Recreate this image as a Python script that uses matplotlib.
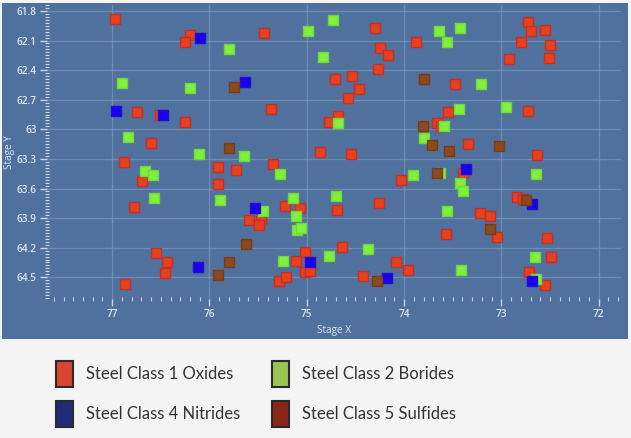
import matplotlib
matplotlib.use("Agg")
import matplotlib.pyplot as plt
from matplotlib.patches import Rectangle, Patch
from matplotlib.ticker import MultipleLocator, FixedLocator
import numpy as np

# --- data (stage coordinates) ---
oxides_x = [76.97, 76.20, 76.25, 75.44, 76.75, 76.51, 76.25, 75.37, 76.60, 76.88,
            74.86, 75.91, 75.91, 75.73, 75.35, 76.69, 76.78, 75.22, 75.07, 75.59,
            75.47, 75.49, 76.55, 76.44, 76.46, 76.87, 75.02, 75.11, 75.02, 74.97,
            75.29, 75.21, 74.30, 73.88, 74.25, 74.16, 74.27, 72.73, 72.70, 72.55,
            72.80, 72.50, 72.92, 72.51, 74.71, 74.54, 74.46, 74.58, 73.48, 73.55,
            72.73, 74.68, 74.77, 73.66, 73.62, 73.34, 74.55, 72.63, 73.39, 74.03,
            74.69, 74.26, 72.84, 72.78, 73.22, 73.12, 73.04, 73.57, 72.53, 74.64,
            74.08, 73.96, 74.42, 72.49, 72.72, 72.55]
oxides_y = [61.88, 62.04, 62.12, 62.02, 62.82, 62.85, 62.93, 62.79, 63.14, 63.33,
            63.23, 63.38, 63.55, 63.41, 63.35, 63.52, 63.79, 63.78, 63.80, 63.92,
            63.91, 63.97, 64.25, 64.34, 64.46, 64.57, 64.24, 64.33, 64.45, 64.44,
            64.54, 64.50, 61.97, 62.12, 62.18, 62.25, 62.39, 61.91, 62.00, 61.99,
            62.11, 62.15, 62.29, 62.28, 62.49, 62.46, 62.59, 62.68, 62.54, 62.82,
            62.81, 62.87, 62.93, 62.94, 62.97, 63.15, 63.25, 63.26, 63.44, 63.51,
            63.82, 63.75, 63.69, 63.71, 63.85, 63.88, 64.09, 64.06, 64.10, 64.19,
            64.34, 64.43, 64.49, 64.29, 64.45, 64.58]

borides_x = [75.80, 74.99, 74.83, 76.90, 76.20, 76.84, 76.11, 75.64, 76.66, 76.58,
             75.27, 76.57, 75.89, 75.45, 75.14, 75.11, 75.10, 75.06, 75.24, 74.73,
             73.64, 73.43, 73.56, 73.21, 73.44, 72.95, 74.68, 73.59, 73.79, 73.91,
             73.63, 72.64, 73.43, 73.39, 74.70, 73.56, 74.77, 74.37, 73.41, 72.65,
             72.64]
borides_y = [62.19, 62.00, 62.27, 62.53, 62.58, 63.08, 63.25, 63.27, 63.42, 63.46,
             63.45, 63.70, 63.72, 63.83, 63.70, 63.88, 64.02, 64.00, 64.33, 61.89,
             62.00, 61.97, 62.11, 62.54, 62.79, 62.77, 62.94, 62.97, 63.09, 63.46,
             63.44, 63.45, 63.54, 63.63, 63.68, 63.83, 64.28, 64.21, 64.43, 64.29,
             64.52]

nitrides_x = [76.10, 75.63, 76.96, 76.48, 75.53, 76.12, 74.97, 73.36, 72.68, 74.18, 72.68]
nitrides_y = [62.07, 62.52, 62.81, 62.86, 63.80, 64.40, 64.34, 63.40, 63.76, 64.51, 64.54]

sulfides_x = [75.75, 75.80, 75.62, 75.80, 75.91, 73.80, 73.81, 73.71, 73.54, 73.02,
              73.66, 72.75, 73.12, 74.28]
sulfides_y = [62.57, 63.19, 64.16, 64.35, 64.48, 62.49, 62.97, 63.16, 63.22, 63.17,
              63.44, 63.72, 64.01, 64.54]

legend_labels = ["Steel Class 1 Oxides", "Steel Class 4 Nitrides",
                 "Steel Class 2 Borides", "Steel Class 5 Sulfides"]
legend_colors = ["#d9452e", "#1f2a7a", "#9ac552", "#8b2518"]

x_ticks = [77, 76, 75, 74, 73, 72]
y_ticks = [61.8, 62.1, 62.4, 62.7, 63, 63.3, 63.6, 63.9, 64.2, 64.5]

# --- figure ---
W, H = 631, 438
fig = plt.figure(figsize=(W / 100, H / 100), dpi=100, facecolor="#f4f4f4")

bg = "#50709d"
fig.patches.append(Rectangle((2 / W, (H - 339) / H), 626 / W, 336 / H,
                             transform=fig.transFigure, facecolor=bg,
                             edgecolor="none", zorder=-10))

ax = fig.add_axes([47 / W, (H - 299) / H, (621 - 47) / W, (299 - 5) / H])
ax.set_zorder(1)
ax.set_facecolor(bg)
for sp in ax.spines.values():
    sp.set_visible(False)

ax.set_xlim(77.67, 71.77)
ax.set_ylim(64.72, 61.74)

ax.xaxis.set_major_locator(FixedLocator(x_ticks))
ax.xaxis.set_minor_locator(MultipleLocator(0.1))
ax.yaxis.set_major_locator(FixedLocator(y_ticks))
ax.yaxis.set_minor_locator(MultipleLocator(0.03))
ax.set_xticklabels([str(t) for t in x_ticks])
ax.set_yticklabels([("%g" % t) for t in y_ticks])

tick_col = "#c9d5e6"
lab_col = "#dde5ef"
ax.tick_params(axis="both", which="major", colors=tick_col, labelcolor=lab_col,
               labelsize=7.2, width=1, length=5, direction="out", pad=2.5)
ax.tick_params(axis="both", which="minor", colors=tick_col, width=0.8,
               length=2.5, direction="inout")
for lab in ax.get_xticklabels() + ax.get_yticklabels():
    lab.set_fontfamily("Open Sans")
    lab.set_fontweight("semibold")

ax.grid(which="major", color="#7591bc", linewidth=1, alpha=0.8)
ax.set_axisbelow(True)

ax.set_xlabel("Stage X", color=lab_col, fontsize=7.2, family="Open Sans")
ax.set_ylabel("Stage Y", color=lab_col, fontsize=7.2, family="Open Sans")
ax.xaxis.set_label_coords(0.5, -(330 - 299) / (299 - 5), transform=ax.transAxes)
ax.yaxis.set_label_coords(-(47 - 9) / (621 - 47), 0.5, transform=ax.transAxes)
ax.xaxis.label.set_va("center")
ax.yaxis.label.set_va("center")

ms = 62
ax.scatter(oxides_x, oxides_y, marker="s", s=ms, c="#e6401e",
           edgecolors="#c0322a", linewidths=1, zorder=3)
ax.scatter(borides_x, borides_y, marker="s", s=ms, c="#80f03c",
           edgecolors="#6fd83a", linewidths=1, zorder=3)
ax.scatter(nitrides_x, nitrides_y, marker="s", s=ms, c="#1800ee",
           edgecolors="#2010d0", linewidths=1, zorder=3)
ax.scatter(sulfides_x, sulfides_y, marker="s", s=ms, c="#8a4a1e",
           edgecolors="#7a3a1c", linewidths=1, zorder=3)

handles = [Patch(facecolor=c, edgecolor="#2b2b2b", linewidth=1.5) for c in legend_colors]
fig.legend(handles, legend_labels, ncol=2, loc="upper left",
           bbox_to_anchor=(41 / W, 1 - 346 / H), frameon=False,
           prop={"family": "Lato", "size": 12}, labelcolor="#333333",
           handlelength=1.0, handleheight=2.0, handletextpad=0.8,
           columnspacing=1.9, labelspacing=0.85)

fig.savefig("out.png", dpi=100, facecolor=fig.get_facecolor())
